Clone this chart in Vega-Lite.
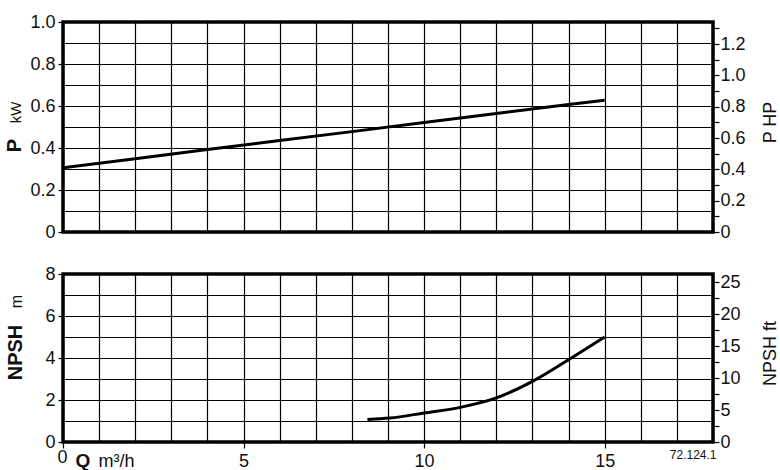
{
  "$schema": "https://vega.github.io/schema/vega-lite/v6.json",
  "background": "white",
  "padding": {"left": 2, "top": 11, "right": 0, "bottom": 0},
  "config": {
    "font": "Liberation Sans",
    "view": {"stroke": "black", "strokeWidth": 3.5},
    "axis": {
      "labelColor": "#111",
      "titleColor": "#111",
      "labelFont": "Liberation Sans",
      "titleFont": "Liberation Sans",
      "gridColor": "black",
      "gridOpacity": 1,
      "gridWidth": 1.2,
      "tickColor": "black",
      "tickWidth": 1.2,
      "domain": false
    }
  },
  "datasets": {
    "power": [
      {"q": 0, "kw": 0.306, "hp": 0.410},
      {"q": 2, "kw": 0.349, "hp": 0.468},
      {"q": 4, "kw": 0.393, "hp": 0.527},
      {"q": 6, "kw": 0.436, "hp": 0.585},
      {"q": 8, "kw": 0.478, "hp": 0.641},
      {"q": 10, "kw": 0.521, "hp": 0.699},
      {"q": 12, "kw": 0.564, "hp": 0.756},
      {"q": 14, "kw": 0.607, "hp": 0.814},
      {"q": 15, "kw": 0.627, "hp": 0.841}
    ],
    "npsh": [
      {"q": 8.43, "m": 1.07, "ft": 3.51},
      {"q": 9.05, "m": 1.14, "ft": 3.74},
      {"q": 10, "m": 1.38, "ft": 4.53},
      {"q": 11, "m": 1.65, "ft": 5.41},
      {"q": 12, "m": 2.1, "ft": 6.89},
      {"q": 13, "m": 2.89, "ft": 9.48},
      {"q": 14, "m": 3.92, "ft": 12.86},
      {"q": 15, "m": 5.0, "ft": 16.40}
    ]
  },
  "spacing": 20,
  "vconcat": [
    {
      "width": 650,
      "height": 210,
      "data": {"name": "power"},
      "layer": [
        {
          "mark": {"type": "line", "color": "black", "strokeWidth": 3, "clip": true},
          "encoding": {
            "x": {
              "field": "q", "type": "quantitative",
              "scale": {"domain": [0, 18], "nice": false},
              "axis": {"values": [0,1,2,3,4,5,6,7,8,9,10,11,12,13,14,15,16,17,18], "grid": true, "labels": false, "ticks": false, "title": null}
            },
            "y": {
              "field": "kw", "type": "quantitative",
              "scale": {"domain": [0, 1], "nice": false},
              "axis": {
                "orient": "left",
                "values": [0,0.1,0.2,0.3,0.4,0.5,0.6,0.7,0.8,0.9,1.0],
                "grid": true,
                "tickSize": 5,
                "tickOpacity": {"condition": {"test": "round(datum.value*10)%2==0", "value": 1}, "value": 0},
                "labelExpr": "round(datum.value*10)%2==0 ? (datum.value==0 ? '0' : format(datum.value,'.1f')) : ''",
                "labelFontSize": 18,
                "labelPadding": 3,
                "title": "P",
                "titleFontSize": 20,
                "titleFontWeight": "bold",
                "titleAngle": -90,
                "titleBaseline": "alphabetic",
                "titleAlign": "center",
                "titleX": -43,
                "titleY": 123
              }
            }
          }
        },
        {
          "mark": {"type": "line", "color": "black", "strokeWidth": 3, "opacity": 0},
          "encoding": {
            "x": {"field": "q", "type": "quantitative", "scale": {"domain": [0, 18], "nice": false}, "axis": null},
            "y": {
              "field": "hp", "type": "quantitative",
              "scale": {"domain": [0, 1.341], "nice": false},
              "axis": {
                "orient": "right",
                "values": [0,0.1,0.2,0.3,0.4,0.5,0.6,0.7,0.8,0.9,1.0,1.1,1.2,1.3],
                "grid": false,
                "tickSize": 6,
                "labelExpr": "round(datum.value*10)%2==0 ? (datum.value==0 ? '0' : format(datum.value,'.1f')) : ''",
                "labelFontSize": 18,
                "labelPadding": 1,
                "title": "P HP",
                "titleFontSize": 18,
                "titleFontWeight": "normal",
                "titleAngle": -90,
                "titleBaseline": "alphabetic",
                "titleAlign": "center",
                "titleX": 62,
                "titleY": 100
              }
            }
          }
        },
        {
          "mark": {"type": "line", "color": "black", "opacity": 0},
          "encoding": {
            "x": {"field": "q", "type": "quantitative", "scale": {"domain": [0, 18], "nice": false}, "axis": null},
            "y": {
              "field": "kw", "type": "quantitative",
              "scale": {"domain": [0, 1], "nice": false},
              "axis": {
                "orient": "left",
                "grid": false, "labels": false, "ticks": false,
                "title": "kW",
                "titleFontSize": 15,
                "titleFontWeight": "normal",
                "titleAngle": -90,
                "titleBaseline": "alphabetic",
                "titleAlign": "center",
                "titleX": -43,
                "titleY": 90
              }
            }
          }
        }
      ],
      "resolve": {"scale": {"y": "independent", "x": "independent"}}
    },
    {
      "width": 650,
      "height": 168,
      "data": {"name": "npsh"},
      "layer": [
        {
          "mark": {"type": "line", "color": "black", "strokeWidth": 3, "interpolate": "monotone"},
          "encoding": {
            "x": {
              "field": "q", "type": "quantitative",
              "scale": {"domain": [0, 18], "nice": false},
              "axis": {
                "orient": "bottom",
                "values": [0,1,2,3,4,5,6,7,8,9,10,11,12,13,14,15,16,17,18],
                "grid": true,
                "tickSize": 6,
                "tickOpacity": {"condition": {"test": "datum.value%5==0 && datum.value<16", "value": 1}, "value": 0},
                "labelExpr": "datum.value%5==0 && datum.value<16 ? datum.label : ''",
                "labelFlush": false,
                "labelFontSize": 18,
                "labelPadding": {"condition": {"test": "datum.value==0", "value": 0}, "value": 4},
                "labelOffset": {"condition": {"test": "datum.value==0", "value": -1}, "value": 0},
                "title": "Q",
                "titleFontSize": 19,
                "titleFontWeight": "bold",
                "titleAlign": "left",
                "titleBaseline": "alphabetic",
                "titleX": 12,
                "titleY": 24
              }
            },
            "y": {
              "field": "m", "type": "quantitative",
              "scale": {"domain": [0, 8], "nice": false},
              "axis": {
                "orient": "left",
                "values": [0,1,2,3,4,5,6,7,8],
                "grid": true,
                "tickSize": 5,
                "tickOpacity": {"condition": {"test": "datum.value%2==0", "value": 1}, "value": 0},
                "labelExpr": "datum.value%2==0 ? datum.label : ''",
                "labelFontSize": 18,
                "labelPadding": 3,
                "title": "NPSH",
                "titleFontSize": 20,
                "titleFontWeight": "bold",
                "titleAngle": -90,
                "titleBaseline": "alphabetic",
                "titleAlign": "center",
                "titleX": -42,
                "titleY": 78
              }
            }
          }
        },
        {
          "mark": {"type": "line", "color": "black", "strokeWidth": 3, "interpolate": "monotone", "opacity": 0},
          "encoding": {
            "x": {
              "field": "q", "type": "quantitative",
              "scale": {"domain": [0, 18], "nice": false},
              "axis": {
                "orient": "bottom",
                "grid": false, "labels": false, "ticks": false,
                "title": "72.124.1",
                "titleFontSize": 12,
                "titleFontWeight": "normal",
                "titleAlign": "right",
                "titleBaseline": "alphabetic",
                "titleX": 653,
                "titleY": 16
              }
            },
            "y": {
              "field": "ft", "type": "quantitative",
              "scale": {"domain": [0, 26.25], "nice": false},
              "axis": {
                "orient": "right",
                "values": [0,2.5,5,7.5,10,12.5,15,17.5,20,22.5,25],
                "grid": false,
                "tickSize": 6,
                "labelExpr": "datum.value%5==0 ? datum.label : ''",
                "labelFontSize": 18,
                "labelPadding": 1,
                "title": "NPSH ft",
                "titleFontSize": 18,
                "titleFontWeight": "normal",
                "titleAngle": -90,
                "titleBaseline": "alphabetic",
                "titleAlign": "center",
                "titleX": 62,
                "titleY": 79
              }
            }
          }
        },
        {
          "mark": {"type": "line", "color": "black", "opacity": 0},
          "encoding": {
            "x": {
              "field": "q", "type": "quantitative",
              "scale": {"domain": [0, 18], "nice": false},
              "axis": {
                "orient": "bottom",
                "grid": false, "labels": false, "ticks": false,
                "title": "m³/h",
                "titleFontSize": 18,
                "titleFontWeight": "normal",
                "titleAlign": "left",
                "titleBaseline": "alphabetic",
                "titleX": 35,
                "titleY": 24
              }
            },
            "y": {
              "field": "m", "type": "quantitative",
              "scale": {"domain": [0, 8], "nice": false},
              "axis": {
                "orient": "left",
                "grid": false, "labels": false, "ticks": false,
                "title": "m",
                "titleFontSize": 16,
                "titleFontWeight": "normal",
                "titleAngle": -90,
                "titleBaseline": "alphabetic",
                "titleAlign": "center",
                "titleX": -42,
                "titleY": 27
              }
            }
          }
        }
      ],
      "resolve": {"scale": {"y": "independent", "x": "independent"}}
    }
  ]
}
